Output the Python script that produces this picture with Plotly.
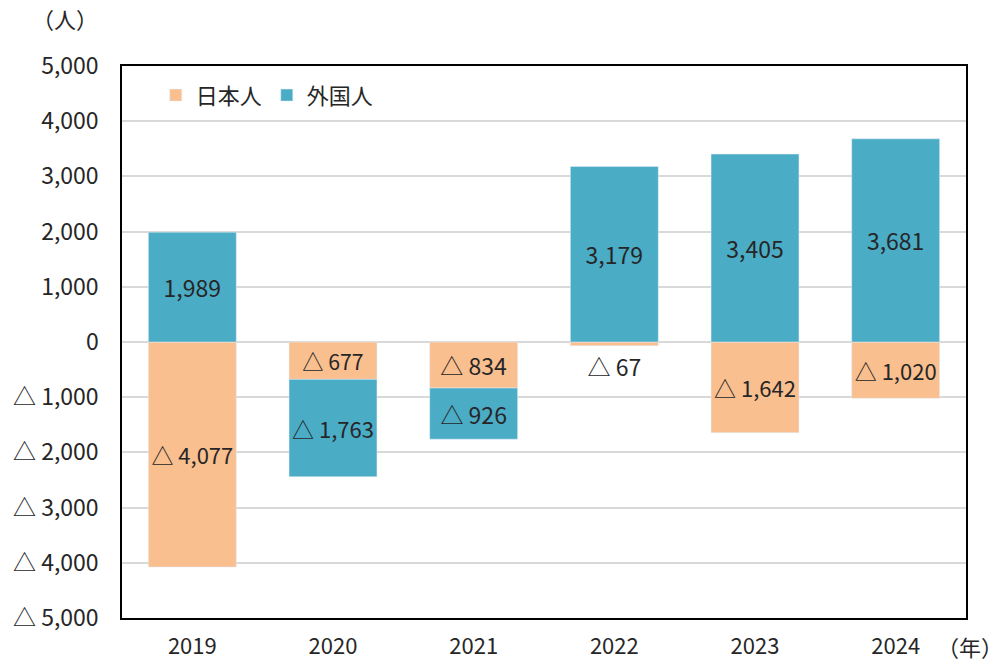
import plotly.graph_objects as go

years = ["2019", "2020", "2021", "2022", "2023", "2024"]
japanese = [-4077, -677, -834, -67, -1642, -1020]
foreign = [1989, -1763, -926, 3179, 3405, 3681]
tick_vals = [5000, 4000, 3000, 2000, 1000, 0, -1000, -2000, -3000, -4000, -5000]

def fmt(v):
    return ("△ " if v < 0 else "") + f"{abs(v):,}"

FONT = "Noto Sans CJK JP"
TXT = "#262626"
ORANGE = "#F9BF8F"
BLUE = "#4BACC6"
FS = 22
FN = 23

jp_pos = ["outside" if abs(v) < 300 else "inside" for v in japanese]

fig = go.Figure()
fig.add_trace(go.Bar(
    x=years, y=japanese, name="日本人", marker_color=ORANGE,
    text=[fmt(v) for v in japanese], textposition=jp_pos,
    insidetextanchor="middle", textangle=0,
    textfont=dict(family=FONT, size=FN, color=TXT),
    outsidetextfont=dict(family=FONT, size=FN, color=TXT),
    cliponaxis=False,
))
fig.add_trace(go.Bar(
    x=years, y=foreign, name="外国人", marker_color=BLUE,
    text=[fmt(v) for v in foreign], textposition="inside",
    insidetextanchor="middle", textangle=0,
    textfont=dict(family=FONT, size=FN, color=TXT),
))

fig.update_layout(
    barmode="relative",
    bargap=0.375,
    width=1004, height=661,
    margin=dict(l=122, r=38, t=66, b=43, autoexpand=False),
    paper_bgcolor="white", plot_bgcolor="white",
    font=dict(family=FONT, size=FS, color=TXT),
    uniformtext=dict(mode=False),
    legend=dict(orientation="h", x=0.04, y=0.985, xanchor="left", yanchor="top",
                font=dict(family=FONT, size=FS, color=TXT),
                bgcolor="rgba(0,0,0,0)", itemwidth=30, traceorder="normal"),
    showlegend=True,
)
fig.update_yaxes(
    range=[-5000, 5000], tickvals=tick_vals, ticktext=[fmt(v) for v in tick_vals],
    showgrid=True, gridcolor="#D9D9D9", gridwidth=1.5,
    zeroline=True, zerolinecolor="#D9D9D9", zerolinewidth=1.5,
    showline=True, linecolor="black", linewidth=1.5, mirror=True,
    ticks="", ticklabelstandoff=17, automargin=False,
    tickfont=dict(family=FONT, size=FN, color=TXT),
)
fig.update_xaxes(
    showline=True, linecolor="black", linewidth=1.5, mirror=True,
    ticks="", ticklabelstandoff=8, automargin=False,
    tickfont=dict(family=FONT, size=FS, color=TXT),
)
fig.add_annotation(text="（人）", xref="paper", yref="paper", x=-0.0675, y=1.087,
                   xanchor="center", yanchor="middle", showarrow=False,
                   font=dict(family=FONT, size=FS, color=TXT))
fig.add_annotation(text="（年）", xref="paper", yref="paper", x=1.005, y=-0.05,
                   xanchor="center", yanchor="middle", showarrow=False,
                   font=dict(family=FONT, size=FS, color=TXT))

fig.write_html("out.html", config={"displayModeBar": False},
               post_script="document.body.style.margin='0';")
